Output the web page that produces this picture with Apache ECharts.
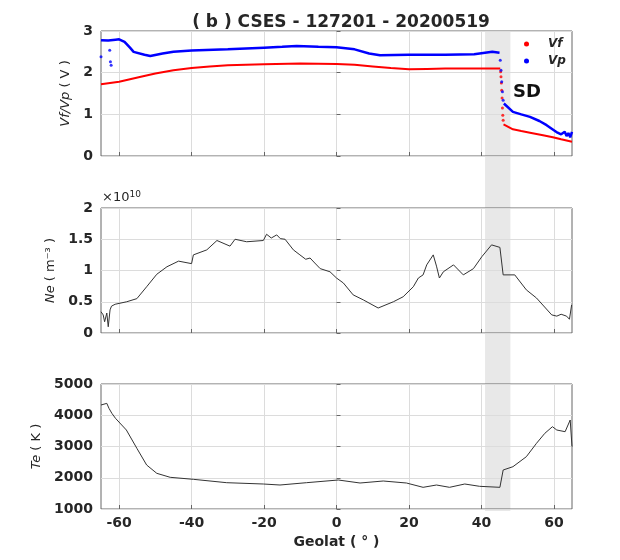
<!DOCTYPE html>
<html><head><meta charset="utf-8">
<script src="https://cdn.jsdelivr.net/npm/echarts@6/dist/echarts.min.js"></script>
<style>html,body{margin:0;padding:0;background:#fff}#c{width:620px;height:560px}</style>
</head><body><div id="c"></div>
<script>
// ---- Data ----
const xTicks = [-60, -40, -20, 0, 20, 40, 60];
const sdBand = [41, 48];

// Vf (V) continuous part before SD, then after SD
const vfLat1 = [-65, -62, -60, -57, -54, -50, -45, -40, -35, -30, -25, -20, -10, 0, 5, 10, 15, 20, 25, 30, 35, 40, 45.2];
const vfVal1 = [1.72, 1.76, 1.78, 1.84, 1.90, 1.98, 2.06, 2.11, 2.15, 2.18, 2.19, 2.20, 2.22, 2.21, 2.19, 2.15, 2.11, 2.08, 2.09, 2.10, 2.10, 2.10, 2.10];
const vfLatDrop = [45.3, 45.4, 45.5, 45.6, 45.7, 45.8, 45.9, 46.0];
const vfValDrop = [2.02, 1.90, 1.75, 1.58, 1.39, 1.15, 0.98, 0.86];
const vfLat2 = [46.1, 46.5, 48.7, 51, 53.4, 57, 59.7, 62, 65];
const vfVal2 = [0.76, 0.72, 0.64, 0.60, 0.56, 0.50, 0.45, 0.40, 0.34];

// Vp (V)
const vpLat1 = [-65, -63, -61, -60, -58.5, -57, -56, -53, -51.4, -48, -45, -40, -30, -20, -15, -11, -5, 0, 5, 9, 12, 20, 30, 38, 41, 43, 45];
const vpVal1 = [2.78, 2.77, 2.79, 2.80, 2.74, 2.60, 2.50, 2.43, 2.40, 2.46, 2.50, 2.53, 2.56, 2.60, 2.62, 2.64, 2.62, 2.61, 2.56, 2.46, 2.42, 2.43, 2.43, 2.44, 2.48, 2.50, 2.48];
const vpLatDots = [-65, -62.6, -62.4, -62.2, 45.2, 45.4, 45.6, 45.8, 46.0];
const vpValDots = [2.38, 2.54, 2.26, 2.18, 2.30, 2.06, 1.78, 1.54, 1.34];
const vpLat2 = [46.2, 46.5, 48.7, 51, 53.4, 56, 58, 60, 61, 62, 63, 63.5, 64, 64.5, 65];
const vpVal2 = [1.26, 1.22, 1.06, 1.00, 0.94, 0.84, 0.74, 0.62, 0.56, 0.52, 0.58, 0.48, 0.55, 0.45, 0.58];

// Ne (x1e10 m^-3)
const neLat = [-65, -64.4, -64, -63.4, -63, -62.5, -62.1, -61.1, -57.9, -55.1, -52.4, -49.6, -46.8, -43.6, -40, -39.5, -35.8, -33, -29.4, -28, -24.8, -20.2, -19.3, -18, -16.5, -15.5, -14.2, -11.9, -10.1, -8.5, -7.3, -6, -4.5, -1.8, 0, 1.9, 4.6, 7.4, 11.5, 15.7, 18.4, 21.2, 22.6, 23.9, 24.9, 26.7, 27.6, 28.4, 29.5, 32.3, 35, 37.8, 40.1, 42.8, 45.1, 46, 49.2, 52.4, 55.2, 59.4, 60.8, 62, 63.5, 64.3, 64.9];
const neVal = [0.34, 0.29, 0.18, 0.32, 0.10, 0.37, 0.43, 0.46, 0.50, 0.55, 0.74, 0.94, 1.06, 1.15, 1.11, 1.25, 1.33, 1.48, 1.39, 1.50, 1.46, 1.48, 1.58, 1.52, 1.57, 1.51, 1.50, 1.33, 1.25, 1.18, 1.20, 1.12, 1.03, 0.98, 0.88, 0.80, 0.61, 0.53, 0.40, 0.50, 0.58, 0.74, 0.88, 0.93, 1.09, 1.25, 1.07, 0.88, 0.98, 1.09, 0.93, 1.03, 1.22, 1.41, 1.37, 0.93, 0.93, 0.69, 0.56, 0.29, 0.27, 0.30, 0.27, 0.22, 0.45];

// Te (K)
const teLat = [-65, -63.4, -62.8, -62, -61, -58, -55.1, -52.4, -49.6, -45.9, -39.5, -30.3, -20.2, -15.6, -8.3, 0.5, 6.5, 12.9, 19.3, 23.9, 27.6, 31.2, 35.4, 39.5, 45.1, 46, 48.7, 52.4, 55.2, 57.5, 59.6, 60.8, 63.1, 64.5, 65];
const teVal = [4328, 4381, 4222, 4062, 3902, 3528, 2942, 2408, 2142, 2014, 1950, 1842, 1800, 1768, 1842, 1928, 1832, 1896, 1832, 1694, 1768, 1694, 1800, 1726, 1694, 2248, 2354, 2674, 3102, 3422, 3634, 3528, 3474, 3848, 2994];

const zip = (a, b) => a.map((x, i) => [x, b[i]]);

// ---- Chart ----
const FONT = 'DejaVu Sans';
const TXT = '#262626';
const GRIDC = '#dcdcdc';
const chart = echarts.init(document.getElementById('c'), null, {renderer: 'canvas'});

const grids = [
  {left: 101, right: 48, top: 31, height: 125},
  {left: 101, right: 48, top: 208, height: 125},
  {left: 101, right: 48, top: 384, height: 125}
].map(g => Object.assign(g, {show: true, borderColor: '#666', borderWidth: 1, backgroundColor: 'transparent'}));

function xAx(i, showLabel) {
  return {
    type: 'value', gridIndex: i, min: -65, max: 65,
    axisLine: {show: false},
    axisTick: {show: true, inside: true, length: 4, lineStyle: {color: '#666'}, customValues: xTicks},
    axisLabel: {show: showLabel, customValues: xTicks, color: TXT, fontFamily: FONT, fontWeight: 'bold', fontSize: 14, margin: 7},
    splitLine: {show: true, lineStyle: {color: GRIDC, width: 1}},
    name: showLabel ? 'Geolat ( ° )' : '', nameLocation: 'middle', nameGap: 26,
    nameTextStyle: {color: TXT, fontFamily: FONT, fontWeight: 'bold', fontSize: 14}
  };
}
function yAx(i, min, max, interval, name) {
  return {
    type: 'value', gridIndex: i, min, max, interval,
    axisLine: {show: false},
    axisTick: {show: true, inside: true, length: 4, lineStyle: {color: '#666'}},
    axisLabel: {color: TXT, fontFamily: FONT, fontWeight: 'bold', fontSize: 14, margin: 8, formatter: v => String(v)},
    splitLine: {show: true, lineStyle: {color: GRIDC, width: 1}},
    name, nameLocation: 'middle', nameGap: 25,
    nameTextStyle: {
      color: TXT, fontFamily: FONT, fontSize: 13,
      rich: {
        i: {fontStyle: 'italic', fontFamily: FONT, fontSize: 13, color: TXT},
        n: {fontFamily: FONT, fontSize: 13, color: TXT}
      }
    }
  };
}

const option = {
  animation: false,
  backgroundColor: '#fff',
  title: {
    text: '( b ) CSES - 127201 - 20200519', left: 336, top: 9, textAlign: 'center',
    textStyle: {color: TXT, fontFamily: FONT, fontWeight: 'bold', fontSize: 17}
  },
  legend: {
    orient: 'vertical', left: 519, top: 33, itemWidth: 5, itemHeight: 5, itemGap: 5,
    data: [{name: 'Vf', icon: 'circle'}, {name: 'Vp', icon: 'circle'}],
    textStyle: {color: TXT, fontFamily: FONT, fontStyle: 'italic', fontWeight: 'bold', fontSize: 12, padding: [0, 0, 0, 14]}
  },
  grid: grids,
  xAxis: [xAx(0, false), xAx(1, false), xAx(2, true)],
  yAxis: [
    yAx(0, 0, 3, 1, '{i|Vf/Vp}{n| ( V )}'),
    yAx(1, 0, 2, 0.5, '{i|Ne}{n| ( m⁻³ )}'),
    yAx(2, 1000, 5000, 1000, '{i|Te}{n| ( K )}')
  ],
  series: [
    {name: 'Vf', type: 'line', xAxisIndex: 0, yAxisIndex: 0, data: zip(vfLat1, vfVal1), showSymbol: false, lineStyle: {color: '#ff0000', width: 2}, itemStyle: {color: '#ff0000'}},
    {name: 'Vf', type: 'scatter', xAxisIndex: 0, yAxisIndex: 0, data: zip(vfLatDrop, vfValDrop), symbolSize: 3, itemStyle: {color: '#ff0000'}},
    {name: 'Vf', type: 'line', xAxisIndex: 0, yAxisIndex: 0, data: zip(vfLat2, vfVal2), showSymbol: false, lineStyle: {color: '#ff0000', width: 2}, itemStyle: {color: '#ff0000'}},
    {name: 'Vp', type: 'line', xAxisIndex: 0, yAxisIndex: 0, data: zip(vpLat1, vpVal1), showSymbol: false, lineStyle: {color: '#0000ff', width: 2.5}, itemStyle: {color: '#0000ff'}},
    {name: 'Vp', type: 'scatter', xAxisIndex: 0, yAxisIndex: 0, data: zip(vpLatDots, vpValDots), symbolSize: 3, itemStyle: {color: '#0000ff'}},
    {name: 'Vp', type: 'line', xAxisIndex: 0, yAxisIndex: 0, data: zip(vpLat2, vpVal2), showSymbol: false, lineStyle: {color: '#0000ff', width: 2.5}, itemStyle: {color: '#0000ff'}},
    {name: 'Ne', type: 'line', xAxisIndex: 1, yAxisIndex: 1, data: zip(neLat, neVal), showSymbol: false, lineStyle: {color: '#333', width: 1}},
    {name: 'Te', type: 'line', xAxisIndex: 2, yAxisIndex: 2, data: zip(teLat, teVal), showSymbol: false, lineStyle: {color: '#333', width: 1}}
  ]
};
chart.setOption(option);

// shaded SD band spanning all panels, plus annotations
const bx1 = chart.convertToPixel({xAxisIndex: 0}, sdBand[0]);
const bx2 = chart.convertToPixel({xAxisIndex: 0}, sdBand[1]);
const byTop = chart.convertToPixel({yAxisIndex: 0}, 3);
const byBot = chart.convertToPixel({yAxisIndex: 2}, 1000) + 2;
chart.setOption({
  graphic: [
    {type: 'rect', z: -1, silent: true, shape: {x: bx1, y: byTop, width: bx2 - bx1, height: byBot - byTop}, style: {fill: '#e8e8e8'}},
    {type: 'text', z: 10, left: 513, top: 83, style: {text: 'SD', fill: '#111', font: 'bold 18px "DejaVu Sans"'}},
    {type: 'text', z: 10, left: 102, top: 190, style: {
      text: '{n|×10}{s|10}', fill: TXT,
      rich: {n: {font: '13px "DejaVu Sans"', fill: TXT}, s: {font: '9px "DejaVu Sans"', fill: TXT, verticalAlign: 'top', padding: [0, 0, 6, 0]}}
    }}
  ]
});
</script></body></html>
